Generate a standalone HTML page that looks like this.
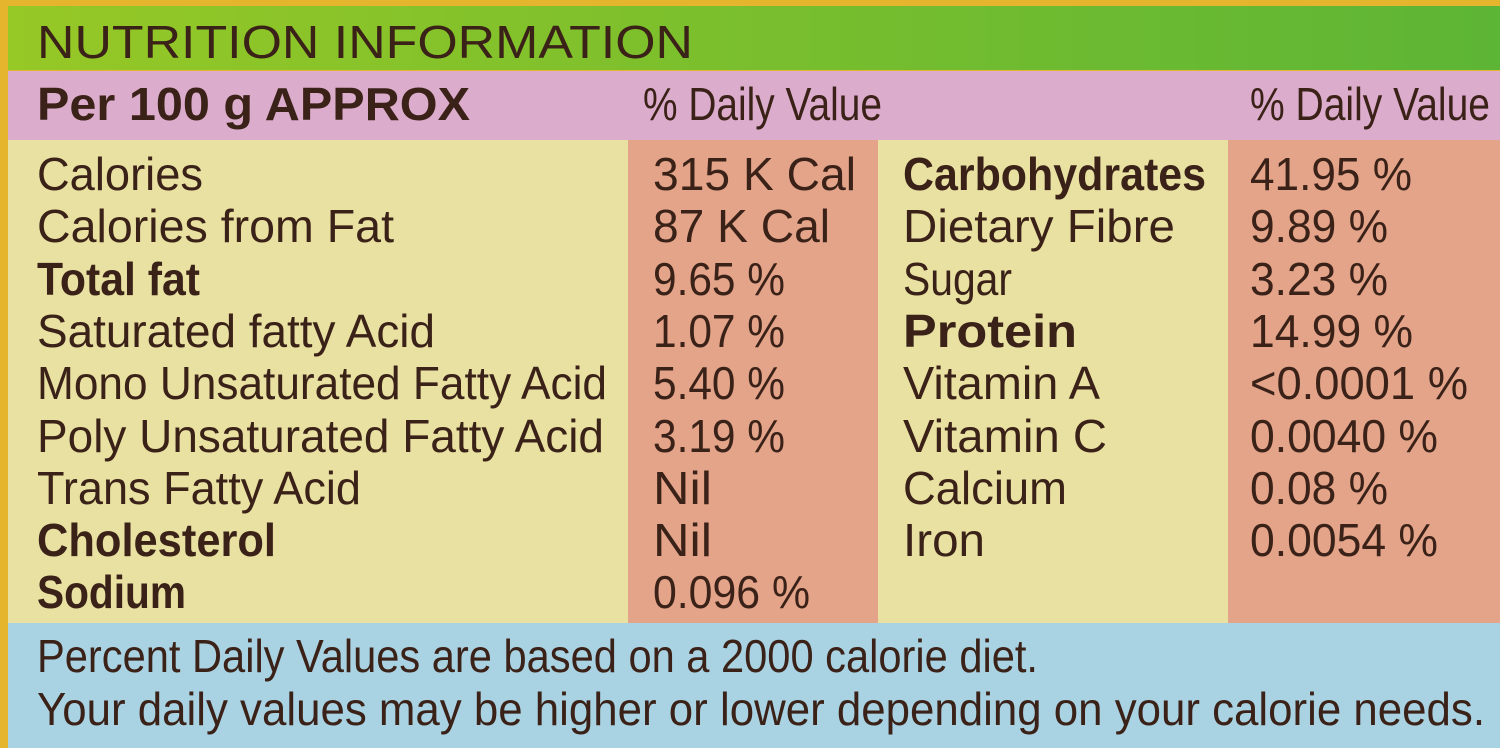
<!DOCTYPE html>
<html><head><meta charset="utf-8"><style>
html,body{margin:0;padding:0;width:1500px;height:748px;overflow:hidden;background:#e6b52e}
svg{display:block}
text{font-family:"Liberation Sans",sans-serif;fill:#3b2218;font-size:46px}
.b{font-weight:bold}
</style></head><body>
<svg width="1500" height="748" viewBox="0 0 1500 748">
<defs><linearGradient id="g" x1="0" x2="1"><stop offset="0" stop-color="#96c826"/><stop offset="1" stop-color="#5db535"/></linearGradient></defs>
<rect x="0" y="0" width="1500" height="748" fill="#e6b52e"/>
<rect x="8" y="6" width="1492" height="64" fill="url(#g)"/>
<rect x="8" y="71" width="1492" height="69" fill="#dbaccb"/>
<rect x="8" y="140" width="620" height="483" fill="#e9e1a2"/>
<rect x="628" y="140" width="250" height="483" fill="#e3a48a"/>
<rect x="878" y="140" width="350" height="483" fill="#e9e1a2"/>
<rect x="1228" y="140" width="272" height="483" fill="#e3a48a"/>
<rect x="8" y="623" width="1492" height="125" fill="#a9d2e2"/>

<text x="37" y="58" font-size="48" textLength="656" lengthAdjust="spacingAndGlyphs">NUTRITION INFORMATION</text>
<text class="b" x="37" y="120" textLength="433" lengthAdjust="spacingAndGlyphs">Per 100 g APPROX</text>
<text x="643" y="120" textLength="239" lengthAdjust="spacingAndGlyphs">% Daily Value</text>
<text x="1250" y="120" textLength="240" lengthAdjust="spacingAndGlyphs">% Daily Value</text>

<g lengthAdjust="spacingAndGlyphs">
<text x="37" y="190" textLength="166" lengthAdjust="spacingAndGlyphs">Calories</text>
<text x="37" y="242" textLength="357" lengthAdjust="spacingAndGlyphs">Calories from Fat</text>
<text class="b" x="37" y="295" textLength="163" lengthAdjust="spacingAndGlyphs">Total fat</text>
<text x="37" y="347" textLength="398" lengthAdjust="spacingAndGlyphs">Saturated fatty Acid</text>
<text x="37" y="399" textLength="570" lengthAdjust="spacingAndGlyphs">Mono Unsaturated Fatty Acid</text>
<text x="37" y="452" textLength="567" lengthAdjust="spacingAndGlyphs">Poly Unsaturated Fatty Acid</text>
<text x="37" y="504" textLength="324" lengthAdjust="spacingAndGlyphs">Trans Fatty Acid</text>
<text class="b" x="37" y="556" textLength="239" lengthAdjust="spacingAndGlyphs">Cholesterol</text>
<text class="b" x="37" y="608" textLength="149" lengthAdjust="spacingAndGlyphs">Sodium</text>

<text x="653" y="190" textLength="203" lengthAdjust="spacingAndGlyphs">315 K Cal</text>
<text x="653" y="242" textLength="177" lengthAdjust="spacingAndGlyphs">87 K Cal</text>
<text x="653" y="295" textLength="132" lengthAdjust="spacingAndGlyphs">9.65 %</text>
<text x="653" y="347" textLength="132" lengthAdjust="spacingAndGlyphs">1.07 %</text>
<text x="653" y="399" textLength="132" lengthAdjust="spacingAndGlyphs">5.40 %</text>
<text x="653" y="452" textLength="132" lengthAdjust="spacingAndGlyphs">3.19 %</text>
<text x="653" y="504" textLength="59" lengthAdjust="spacingAndGlyphs">Nil</text>
<text x="653" y="556" textLength="59" lengthAdjust="spacingAndGlyphs">Nil</text>
<text x="653" y="608" textLength="157" lengthAdjust="spacingAndGlyphs">0.096 %</text>

<text class="b" x="903" y="190" textLength="303" lengthAdjust="spacingAndGlyphs">Carbohydrates</text>
<text x="903" y="242" textLength="272" lengthAdjust="spacingAndGlyphs">Dietary Fibre</text>
<text x="903" y="295" textLength="109" lengthAdjust="spacingAndGlyphs">Sugar</text>
<text class="b" x="903" y="347" textLength="174" lengthAdjust="spacingAndGlyphs">Protein</text>
<text x="903" y="399" textLength="197" lengthAdjust="spacingAndGlyphs">Vitamin A</text>
<text x="903" y="452" textLength="204" lengthAdjust="spacingAndGlyphs">Vitamin C</text>
<text x="903" y="504" textLength="164" lengthAdjust="spacingAndGlyphs">Calcium</text>
<text x="903" y="556" textLength="82" lengthAdjust="spacingAndGlyphs">Iron</text>

<text x="1250" y="190" textLength="162" lengthAdjust="spacingAndGlyphs">41.95 %</text>
<text x="1250" y="242" textLength="138" lengthAdjust="spacingAndGlyphs">9.89 %</text>
<text x="1250" y="295" textLength="138" lengthAdjust="spacingAndGlyphs">3.23 %</text>
<text x="1250" y="347" textLength="163" lengthAdjust="spacingAndGlyphs">14.99 %</text>
<text x="1250" y="399" textLength="218" lengthAdjust="spacingAndGlyphs">&lt;0.0001 %</text>
<text x="1250" y="452" textLength="188" lengthAdjust="spacingAndGlyphs">0.0040 %</text>
<text x="1250" y="504" textLength="138" lengthAdjust="spacingAndGlyphs">0.08 %</text>
<text x="1250" y="556" textLength="188" lengthAdjust="spacingAndGlyphs">0.0054 %</text>

<text x="37" y="672" font-size="44" textLength="1001" lengthAdjust="spacingAndGlyphs">Percent Daily Values are based on a 2000 calorie diet.</text>
<text x="37" y="725" font-size="44" textLength="1448" lengthAdjust="spacingAndGlyphs">Your daily values may be higher or lower depending on your calorie needs.</text>
</g>
</svg>
</body></html>
